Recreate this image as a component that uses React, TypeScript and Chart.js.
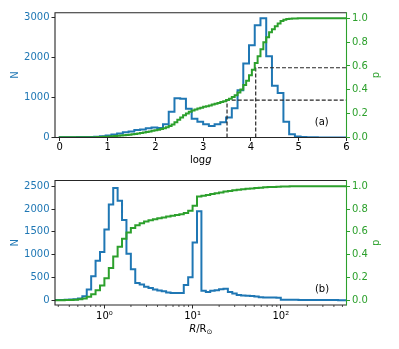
import React, { useEffect, useRef } from "react";
import { Chart, registerables } from "chart.js";
Chart.register(...registerables);

const BLUE = "#1f77b4";
const GREEN = "#2ca02c";
const INK = "#262626";
const FAMILY = "'DejaVu Sans', sans-serif";

// ---------------- panel (a): log g ----------------
const loggBinStart = 0;
const loggBinWidth = 0.12;
const loggCounts = [
  5, 5, 8, 10, 12, 15, 20, 30, 50, 75,
  100, 130, 150, 190, 200, 230, 250, 240, 330, 640,
  980, 970, 720, 470, 390, 330, 290, 330, 380, 500,
  730, 1180, 1850, 2300, 2800, 2975, 2030, 1290, 1110, 390,
  80, 25, 10, 6, 4, 3, 2, 2, 1, 1,
];
// cumulative fraction p (value holds over the interval ending at x)
const loggCumX = [
  0.0, 0.6, 0.66, 0.72, 0.78, 0.84, 0.9, 0.96, 1.02, 1.08,
  1.14, 1.2, 1.26, 1.32, 1.38, 1.44, 1.5, 1.56, 1.62, 1.68,
  1.74, 1.8, 1.86, 1.92, 1.98, 2.04, 2.1, 2.16, 2.22, 2.28,
  2.34, 2.4, 2.46, 2.52, 2.58, 2.64, 2.7, 2.76, 2.82, 2.88,
  2.94, 3.0, 3.06, 3.12, 3.18, 3.24, 3.3, 3.36, 3.42, 3.48,
  3.54, 3.6, 3.66, 3.72, 3.78, 3.84, 3.9, 3.96, 4.02, 4.08,
  4.14, 4.2, 4.26, 4.32, 4.38, 4.44, 4.5, 4.56, 4.62, 4.68,
  4.74, 4.8, 4.86, 4.92, 4.98, 5.1, 6.0,
];
const loggCumP = [
  0.0, 0.002, 0.002, 0.003, 0.003, 0.004, 0.005, 0.006, 0.007, 0.009,
  0.01, 0.012, 0.014, 0.016, 0.018, 0.021, 0.024, 0.027, 0.03, 0.034,
  0.038, 0.042, 0.046, 0.051, 0.056, 0.061, 0.066, 0.071, 0.078, 0.085,
  0.097, 0.11, 0.128, 0.148, 0.168, 0.187, 0.202, 0.216, 0.226, 0.235,
  0.243, 0.25, 0.257, 0.263, 0.269, 0.276, 0.283, 0.29, 0.297, 0.305,
  0.315, 0.325, 0.34, 0.355, 0.378, 0.402, 0.44, 0.477, 0.523, 0.568,
  0.625, 0.681, 0.741, 0.8, 0.842, 0.882, 0.908, 0.934, 0.957, 0.978,
  0.988, 0.994, 0.997, 0.998, 0.999, 1.0, 1.0,
];
const loggCutX = [3.5, 4.1];
const loggCutP = [0.313, 0.585];
const loggTickValues = [0, 1, 2, 3, 4, 5, 6];
const nTickValuesA = [0, 1000, 2000, 3000];
const pTickValues = [0, 0.2, 0.4, 0.6, 0.8, 1.0];

// ---------------- panel (b): R / Rsun ----------------
const rLogBinStart = -0.55;
const rLogBinWidth = 0.05;
const rCounts = [
  10, 12, 15, 20, 25, 40, 90, 240, 530, 870,
  1060, 1550, 2100, 2460, 2180, 1760, 1020, 680, 380, 350,
  300, 270, 240, 220, 200, 175, 165, 165, 165, 340,
  510, 1270, 1950, 210, 185, 210, 225, 245, 255, 185,
  150, 120, 110, 105, 95, 85, 70, 65, 65, 62,
  60, 15, 15, 14, 13, 12, 12, 11, 10, 10,
  9, 8, 8, 7, 6, 5,
];
const rCumLogX = [
  -0.56, -0.5, -0.45, -0.4, -0.35, -0.3, -0.25, -0.2, -0.15, -0.1,
  -0.05, 0.0, 0.05, 0.1, 0.15, 0.2, 0.25, 0.3, 0.35, 0.4,
  0.45, 0.5, 0.55, 0.6, 0.65, 0.7, 0.75, 0.8, 0.85, 0.9,
  0.95, 1.0, 1.05, 1.1, 1.15, 1.2, 1.25, 1.3, 1.35, 1.4,
  1.45, 1.5, 1.55, 1.6, 1.65, 1.7, 1.75, 1.8, 1.85, 1.9,
  1.95, 2.0, 2.1, 2.2, 2.3, 2.745,
];
const rCumP = [
  0.0, 0.001, 0.002, 0.003, 0.004, 0.006, 0.01, 0.018, 0.032, 0.055,
  0.09, 0.13, 0.195, 0.285, 0.385, 0.47, 0.54, 0.595, 0.635, 0.658,
  0.675, 0.69, 0.702, 0.711, 0.719, 0.727, 0.734, 0.741, 0.748, 0.755,
  0.765, 0.785, 0.83, 0.91, 0.917, 0.924, 0.931, 0.938, 0.946, 0.953,
  0.959, 0.964, 0.969, 0.973, 0.977, 0.981, 0.984, 0.987, 0.99, 0.992,
  0.994, 0.996, 0.998, 0.999, 1.0, 1.0,
];
const rTickValues = [1, 10, 100];
const rTickLabels = ["10⁰", "10¹", "10²"];
const rMinorTickValues = [
  0.3, 0.4, 0.5, 0.6, 0.7, 0.8, 0.9,
  2, 3, 4, 5, 6, 7, 8, 9,
  20, 30, 40, 50, 60, 70, 80, 90,
  200, 300, 400, 500,
];
const nTickValuesB = [0, 500, 1000, 1500, 2000, 2500];

// ---------------- helpers ----------------
type Part = { text: string; italic?: boolean; size?: number; dy?: number };

function histPoints(edges: number[], counts: number[]) {
  const pts: { x: number; y: number }[] = [{ x: edges[0], y: 0 }];
  counts.forEach((c, i) => pts.push({ x: edges[i], y: c }));
  const n = counts.length;
  pts.push({ x: edges[n], y: counts[n - 1] });
  pts.push({ x: edges[n], y: 0 });
  return pts;
}

function drawRich(ctx: any, parts: Part[], x: number, y: number, rot: number, color: string) {
  ctx.save();
  ctx.translate(x, y);
  ctx.rotate(rot);
  ctx.fillStyle = color;
  ctx.textBaseline = "middle";
  ctx.textAlign = "left";
  const fontOf = (p: Part) => `${p.italic ? "italic " : ""}${p.size ?? 10}px ${FAMILY}`;
  const widths = parts.map((p) => {
    ctx.font = fontOf(p);
    return ctx.measureText(p.text).width;
  });
  let cx = -widths.reduce((a, b) => a + b, 0) / 2;
  parts.forEach((p, i) => {
    ctx.font = fontOf(p);
    ctx.fillText(p.text, cx, p.dy ?? 0);
    cx += widths[i];
  });
  ctx.restore();
}

function decorPlugin(opts: {
  xTitle: Part[];
  xTitleY: number;
  tag: string;
  tagX: number;
  tagY: number;
  minor?: number[];
}) {
  return {
    id: "decor",
    afterDraw(chart: any) {
      const { ctx, chartArea: a } = chart;
      ctx.save();
      if (opts.minor) {
        const xs = chart.scales.x;
        ctx.strokeStyle = INK;
        ctx.lineWidth = 0.8;
        ctx.beginPath();
        opts.minor.forEach((v) => {
          const px = xs.getPixelForValue(v);
          if (px > a.left && px < a.right) {
            ctx.moveTo(px, a.bottom);
            ctx.lineTo(px, a.bottom + 2);
          }
        });
        ctx.stroke();
      }
      ctx.lineWidth = 1.1;
      ctx.strokeStyle = INK;
      ctx.beginPath();
      ctx.moveTo(a.right, a.top);
      ctx.lineTo(a.left, a.top);
      ctx.lineTo(a.left, a.bottom);
      ctx.lineTo(a.right, a.bottom);
      ctx.stroke();
      ctx.strokeStyle = GREEN;
      ctx.beginPath();
      ctx.moveTo(a.right, a.top - 0.5);
      ctx.lineTo(a.right, a.bottom + 0.5);
      ctx.stroke();
      const midY = (a.top + a.bottom) / 2;
      drawRich(ctx, [{ text: "N" }], 15, midY, -Math.PI / 2, BLUE);
      drawRich(ctx, [{ text: "p" }], 376.7, midY, -Math.PI / 2, GREEN);
      drawRich(ctx, opts.xTitle, (a.left + a.right) / 2, opts.xTitleY, 0, "#000");
      drawRich(ctx, [{ text: opts.tag }], opts.tagX, opts.tagY, 0, "#000");
      ctx.restore();
    },
  };
}

const tickFont = { family: FAMILY, size: 10 };

function yScales(
  nMin: number, nMax: number, nTicks: number[],
  pMin: number, pMax: number
) {
  return {
    yN: {
      type: "linear",
      position: "left",
      min: nMin,
      max: nMax,
      afterFit: (s: any) => { s.width = 55; s.paddingTop = 0; s.paddingBottom = 0; },
      afterBuildTicks: (s: any) => { s.ticks = nTicks.map((v) => ({ value: v })); },
      ticks: { color: BLUE, font: tickFont, padding: 2, autoSkip: false, callback: (v: any) => String(v) },
      grid: { drawOnChartArea: false, drawTicks: true, tickLength: 3.5, color: INK, lineWidth: 1 },
      border: { display: false },
    },
    yP: {
      type: "linear",
      position: "right",
      min: pMin,
      max: pMax,
      afterFit: (s: any) => { s.width = 399 - 346.5; s.paddingTop = 0; s.paddingBottom = 0; },
      afterBuildTicks: (s: any) => { s.ticks = pTickValues.map((v) => ({ value: v })); },
      ticks: { color: GREEN, font: tickFont, padding: 2, autoSkip: false, callback: (v: any) => Number(v).toFixed(1) },
      grid: { drawOnChartArea: false, drawTicks: true, tickLength: 3.5, color: GREEN, lineWidth: 1 },
      border: { display: false },
    },
  };
}

function configA(): any {
  const edges = loggCounts.map((_, i) => loggBinStart + i * loggBinWidth);
  edges.push(loggBinStart + loggCounts.length * loggBinWidth);
  const xMax = 6.0;
  return {
    type: "line",
    data: {
      datasets: [
        {
          data: loggCumX.map((x, i) => ({ x, y: loggCumP[i] })),
          yAxisID: "yP", borderColor: GREEN, borderWidth: 2, stepped: "after",
          pointRadius: 0, borderJoinStyle: "miter", fill: false,
        },
        ...loggCutX.map((cx, i) => ({
          data: [{ x: cx, y: 0 }, { x: cx, y: loggCutP[i] }, { x: xMax, y: loggCutP[i] }],
          yAxisID: "yP", borderColor: INK, borderWidth: 1.2, borderDash: [4, 2],
          pointRadius: 0, fill: false,
        })),
        {
          data: histPoints(edges, loggCounts),
          yAxisID: "yN", borderColor: BLUE, borderWidth: 2, stepped: "before",
          pointRadius: 0, borderJoinStyle: "miter", fill: false,
        },
      ],
    },
    options: {
      responsive: false,
      animation: false,
      devicePixelRatio: 1,
      events: [],
      layout: { padding: { top: 12.7, left: 0, right: 0, bottom: 0 } },
      plugins: { legend: { display: false }, tooltip: { enabled: false } },
      scales: {
        x: {
          type: "linear",
          min: -0.1,
          max: xMax,
          afterFit: (s: any) => { s.height = 170 - 137.5; s.paddingLeft = 0; s.paddingRight = 0; },
          afterBuildTicks: (s: any) => { s.ticks = loggTickValues.map((v) => ({ value: v })); },
          ticks: { color: "#000", font: tickFont, padding: 0, autoSkip: false, maxRotation: 0, minRotation: 0, callback: (v: any) => String(v) },
          grid: { drawOnChartArea: false, drawTicks: true, tickLength: 3.5, color: INK, lineWidth: 1 },
          border: { display: false },
        },
        ...yScales(0, 3115, nTickValuesA, 0, 1.047),
      },
    },
    plugins: [
      decorPlugin({
        xTitle: [{ text: "log" }, { text: "g", italic: true }],
        xTitleY: 160,
        tag: "(a)",
        tagX: 321.7,
        tagY: 122.8,
      }),
    ],
  };
}

function configB(): any {
  const edges = rCounts.map((_, i) => Math.pow(10, rLogBinStart + i * rLogBinWidth));
  edges.push(Math.pow(10, rLogBinStart + rCounts.length * rLogBinWidth));
  return {
    type: "line",
    data: {
      datasets: [
        {
          data: rCumLogX.map((lx, i) => ({ x: Math.pow(10, lx), y: rCumP[i] })),
          yAxisID: "yP", borderColor: GREEN, borderWidth: 2, stepped: "after",
          pointRadius: 0, borderJoinStyle: "miter", fill: false,
        },
        {
          data: histPoints(edges, rCounts),
          yAxisID: "yN", borderColor: BLUE, borderWidth: 2, stepped: "before",
          pointRadius: 0, borderJoinStyle: "miter", fill: false,
        },
      ],
    },
    options: {
      responsive: false,
      animation: false,
      devicePixelRatio: 1,
      events: [],
      layout: { padding: { top: 10.5, left: 0, right: 0, bottom: 0 } },
      plugins: { legend: { display: false }, tooltip: { enabled: false } },
      scales: {
        x: {
          type: "logarithmic",
          min: Math.pow(10, -0.56),
          max: Math.pow(10, 2.745),
          afterFit: (s: any) => { s.height = 179 - 135; s.paddingLeft = 0; s.paddingRight = 0; },
          afterBuildTicks: (s: any) => { s.ticks = rTickValues.map((v) => ({ value: v, major: true })); },
          ticks: {
            color: "#000", font: tickFont, padding: 1.5, autoSkip: false, maxRotation: 0, minRotation: 0,
            callback: (v: any) => {
              const i = rTickValues.indexOf(Number(v));
              return i >= 0 ? rTickLabels[i] : "";
            },
          },
          grid: { drawOnChartArea: false, drawTicks: true, tickLength: 3.5, color: INK, lineWidth: 1 },
          border: { display: false },
        },
        ...yScales(-100, 2625, nTickValuesB, -0.04, 1.05),
      },
    },
    plugins: [
      decorPlugin({
        xTitle: [{ text: "R", italic: true }, { text: "/R" }, { text: "⊙", size: 7, dy: 3 }],
        xTitleY: 159,
        tag: "(b)",
        tagX: 322,
        tagY: 119.5,
        minor: rMinorTickValues,
      }),
    ],
  };
}

function Panel({ makeConfig, top, height }: { makeConfig: () => any; top: number; height: number }) {
  const ref = useRef<HTMLCanvasElement>(null);
  useEffect(() => {
    const chart = new Chart(ref.current as HTMLCanvasElement, makeConfig());
    return () => chart.destroy();
  }, [makeConfig]);
  return (
    <canvas
      ref={ref}
      width={399}
      height={height}
      style={{ position: "absolute", left: 0, top, width: 399, height }}
    />
  );
}

export default function App() {
  return (
    <div style={{ position: "absolute", left: 0, top: 0, width: 399, height: 349, background: "#fff" }}>
      <Panel makeConfig={configA} top={0} height={170} />
      <Panel makeConfig={configB} top={170} height={179} />
    </div>
  );
}
